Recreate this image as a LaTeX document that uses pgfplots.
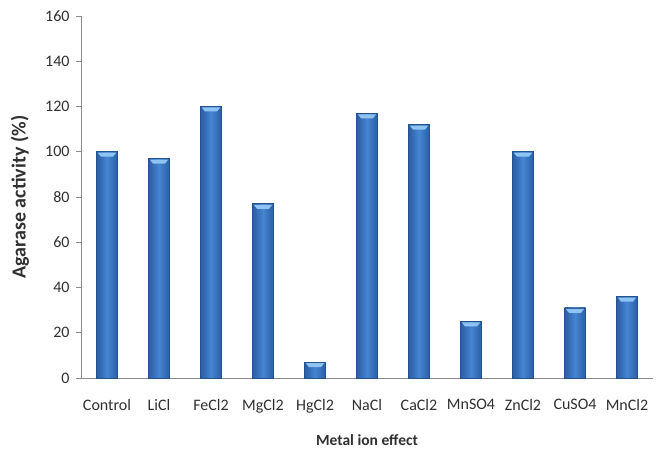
\documentclass[border=0pt]{standalone}
\usepackage{pgfplots}
\pgfplotsset{compat=1.18}
\usepackage{fontspec}
\setmainfont{Carlito}

\definecolor{baredge}{HTML}{24528E}
\definecolor{bardark}{HTML}{2B5DA3}
\definecolor{barmid}{HTML}{4585D2}
\definecolor{capblue}{HTML}{8FC4F2}
\definecolor{axisgrey}{HTML}{8C8C8C}
\definecolor{labelgrey}{HTML}{303030}

% light cap at the top of each bar
\pgfdeclareplotmark{barcap}{%
  \pgfpathmoveto{\pgfqpoint{-9.2bp}{-1bp}}%
  \pgfpathlineto{\pgfqpoint{9.2bp}{-1bp}}%
  \pgfpathlineto{\pgfqpoint{6bp}{-5bp}}%
  \pgfpathlineto{\pgfqpoint{-6bp}{-5bp}}%
  \pgfpathclose
  \pgfusepathqfill}

\pgfplotstableread{
x val
0 100
1 97
2 120
3 77
4 7
5 117
6 112
7 25
8 100
9 31
10 36
}\activity

\begin{document}
\begin{tikzpicture}
\begin{axis}[
  name=ax,
  scale only axis,
  width=572bp, height=362bp,
  ymin=0, ymax=160, ytick={0,20,...,160},
  xmin=-0.5, xmax=10.5,
  xtick={0,...,10},
  xticklabels={Control,LiCl,FeCl2,MgCl2,HgCl2,NaCl,CaCl2,MnSO4,ZnCl2,CuSO4,MnCl2},
  axis x line=bottom, axis y line=left,
  axis line style={axisgrey, line width=0.8pt, -},
  x axis line style={-}, y axis line style={-},
  major x tick style={draw=none},
  ytick style={axisgrey, line width=0.8pt},
  tick align=outside, major tick length=5bp,
  /pgf/number format/assume math mode=true,
  tick label style={font=\fontsize{16bp}{18bp}\selectfont, text=labelgrey},
  ylabel={\textbf{Agarase activity (\%)}},
  xlabel={\textbf{Metal ion effect}},
  ylabel style={font=\fontsize{20bp}{22bp}\selectfont, text=labelgrey, at={(-61bp,0.5)}, anchor=center},
  xlabel style={font=\fontsize{15.5bp}{17bp}\selectfont, text=labelgrey, at={(0.5,-62bp)}, anchor=center},
  xticklabel style={yshift=-13bp},
  yticklabel style={xshift=-3bp},
  clip=false,
]
% one plot per bar so that every bar gets its own cylinder shading
\pgfplotsinvokeforeach{0,...,10}{
  \addplot[ybar, bar width=21bp, bar shift=0pt, draw=baredge, line width=0.6pt,
    left color=bardark, right color=bardark, middle color=barmid,
    x filter/.expression={abs(x-#1)<0.1 ? x : nan}]
    table[x=x, y=val] {\activity};
}
\addplot[only marks, mark=barcap, mark options={fill=capblue, draw=none}]
  table[x=x, y=val] {\activity};
\end{axis}
\path ([xshift=-81bp, yshift=-79bp]ax.south west) rectangle ([xshift=11bp, yshift=16bp]ax.north east);
\end{tikzpicture}
\end{document}
